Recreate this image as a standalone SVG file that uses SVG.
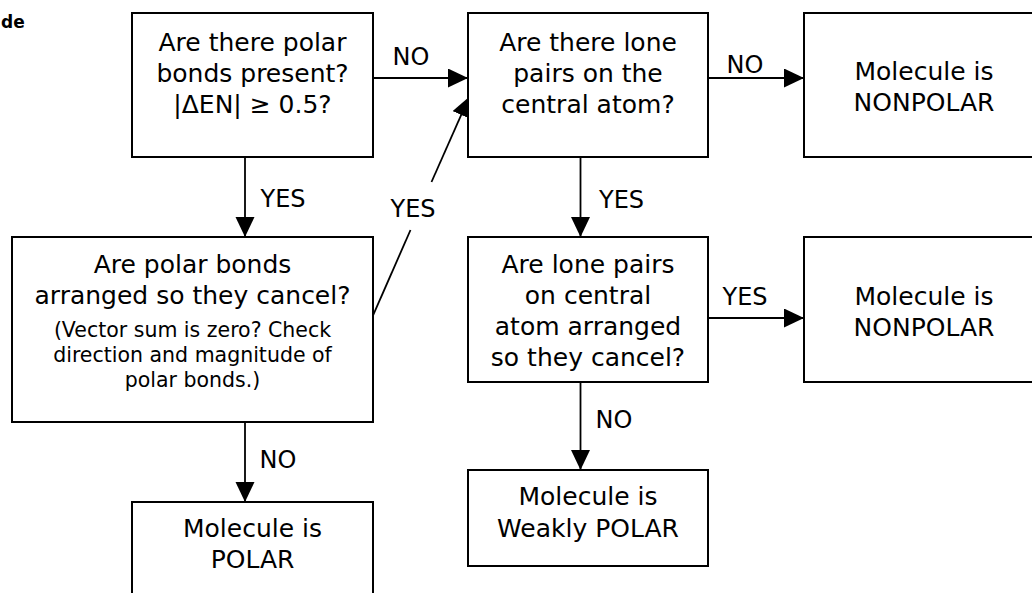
<svg xmlns="http://www.w3.org/2000/svg" width="1032" height="593" viewBox="0 0 1032 593">
<style>
  .box { fill: #ffffff; stroke: #000000; stroke-width: 2; }
  .t { font-family: "DejaVu Sans", "Liberation Sans", sans-serif; font-size: 25px; fill: #000000; text-anchor: middle; }
  .s { font-family: "DejaVu Sans", "Liberation Sans", sans-serif; font-size: 20.5px; fill: #000000; text-anchor: middle; }
  .lbl { font-family: "DejaVu Sans", "Liberation Sans", sans-serif; font-size: 24px; fill: #000000; text-anchor: middle; }
  .c { fill: none; stroke: #000000; stroke-width: 1.8; }
</style>
<defs>
  <marker id="arr" markerUnits="userSpaceOnUse" markerWidth="20" markerHeight="20" refX="20" refY="9.5" orient="auto">
    <path d="M0,0 L20,9.5 L0,19 Z" fill="#000000"/>
  </marker>
</defs>
<rect x="0" y="0" width="1032" height="593" fill="#ffffff"/>
<text x="1" y="28" font-family="DejaVu Sans, Liberation Sans, sans-serif" font-size="17" font-weight="bold" fill="#000000">de</text>

<g id="connectors">
  <line class="c" x1="373" y1="78" x2="468" y2="78" marker-end="url(#arr)"/>
  <line class="c" x1="708" y1="78" x2="804" y2="78" marker-end="url(#arr)"/>
  <line class="c" x1="245" y1="157" x2="245" y2="237" marker-end="url(#arr)"/>
  <line class="c" x1="580.5" y1="157" x2="580.5" y2="237" marker-end="url(#arr)"/>
  <line class="c" x1="708" y1="318" x2="804" y2="318" marker-end="url(#arr)"/>
  <line class="c" x1="580.5" y1="382" x2="580.5" y2="470" marker-end="url(#arr)"/>
  <line class="c" x1="245" y1="422" x2="245" y2="502" marker-end="url(#arr)"/>
  <line class="c" x1="372.5" y1="316.7" x2="410.5" y2="230"/>
  <line class="c" x1="431.5" y1="182" x2="469.3" y2="96.7" marker-end="url(#arr)"/>
  <text class="lbl" x="411" y="65">NO</text>
  <text class="lbl" x="745" y="73">NO</text>
  <text class="lbl" x="283" y="207">YES</text>
  <text class="lbl" x="413" y="217">YES</text>
  <text class="lbl" x="621.5" y="208">YES</text>
  <text class="lbl" x="745" y="305">YES</text>
  <text class="lbl" x="614" y="428">NO</text>
  <text class="lbl" x="278" y="468">NO</text>
</g>

<g id="polar-bonds">
  <rect class="box" x="132" y="13" width="241" height="144"/>
  <text class="t" x="252.5" y="50.5">Are there polar</text>
  <text class="t" x="252.5" y="81.5">bonds present?</text>
  <text class="t" x="252.5" y="112.5">|ΔEN| ≥ 0.5?</text>
</g>

<g id="lone-pairs">
  <rect class="box" x="468" y="13" width="240" height="144"/>
  <text class="t" x="588" y="50.5">Are there lone</text>
  <text class="t" x="588" y="81.5">pairs on the</text>
  <text class="t" x="588" y="112.5">central atom?</text>
</g>

<g id="nonpolar-1">
  <rect class="box" x="804" y="13" width="240" height="144"/>
  <text class="t" x="924" y="80">Molecule is</text>
  <text class="t" x="924" y="111">NONPOLAR</text>
</g>

<g id="bonds-cancel">
  <rect class="box" x="12" y="237" width="361" height="185"/>
  <text class="t" x="192.5" y="273.3">Are polar bonds</text>
  <text class="t" x="192.5" y="304">arranged so they cancel?</text>
  <text class="s" x="192.5" y="336.7">(Vector sum is zero? Check</text>
  <text class="s" x="192.5" y="361.7">direction and magnitude of</text>
  <text class="s" x="192.5" y="387.3">polar bonds.)</text>
</g>

<g id="lone-pairs-cancel">
  <rect class="box" x="468" y="237" width="240" height="145"/>
  <text class="t" x="588" y="273">Are lone pairs</text>
  <text class="t" x="588" y="304">on central</text>
  <text class="t" x="588" y="335">atom arranged</text>
  <text class="t" x="588" y="366">so they cancel?</text>
</g>

<g id="nonpolar-2">
  <rect class="box" x="804" y="237" width="240" height="145"/>
  <text class="t" x="924" y="305">Molecule is</text>
  <text class="t" x="924" y="335.5">NONPOLAR</text>
</g>

<g id="weakly-polar">
  <rect class="box" x="468" y="470" width="240" height="96"/>
  <text class="t" x="588" y="505">Molecule is</text>
  <text class="t" x="588" y="537">Weakly POLAR</text>
</g>

<g id="polar">
  <rect class="box" x="132" y="502" width="241" height="100"/>
  <text class="t" x="252.5" y="537">Molecule is</text>
  <text class="t" x="252.5" y="568">POLAR</text>
</g>
</svg>
